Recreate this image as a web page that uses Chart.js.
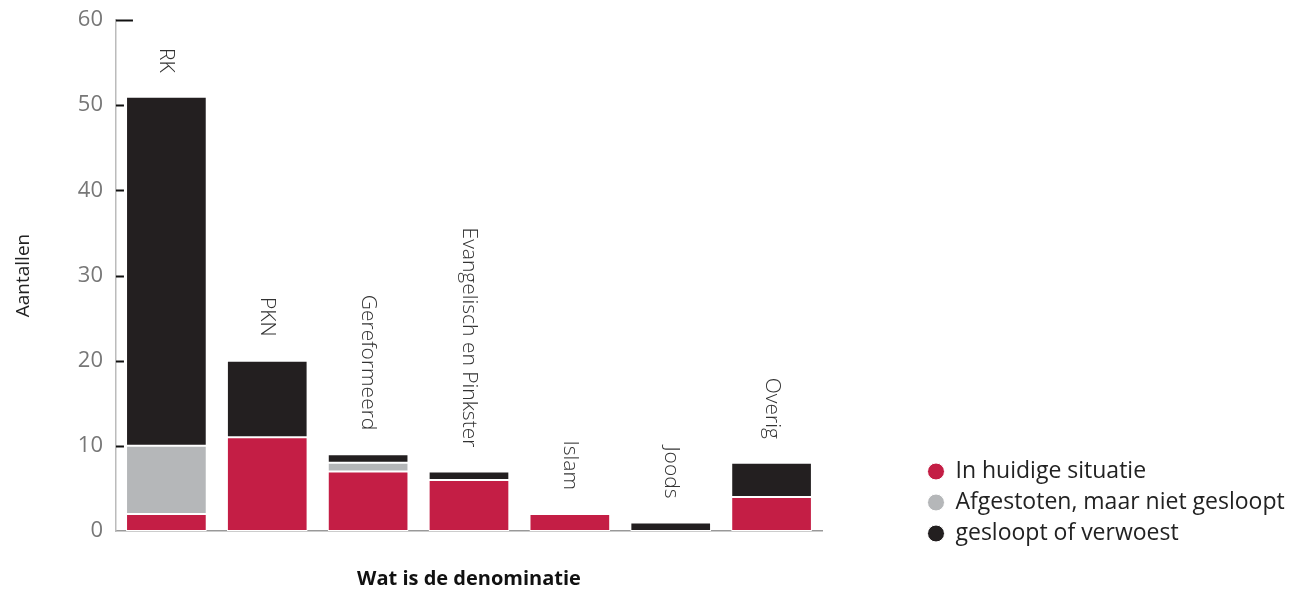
<!DOCTYPE html>
<html>
<head>
<meta charset="utf-8">
<script src="https://cdn.jsdelivr.net/npm/chart.js@4.4.0/dist/chart.umd.min.js"></script>
<style>
  html, body { margin: 0; padding: 0; background: #fff; }
  #wrap { width: 1296px; height: 591px; position: relative; }
</style>
</head>
<body>
<div id="wrap"><canvas id="chartKerken"></canvas></div>
<script>
// categorieen en waarden
const categorieen = ['RK', 'PKN', 'Gereformeerd', 'Evangelisch en Pinkster', 'Islam', 'Joods', 'Overig'];
const huidig = [2, 11, 7, 6, 2, 0, 4];
const afgestoten = [8, 0, 1, 0, 0, 0, 0];
const gesloopt = [41, 9, 1, 1, 0, 1, 4];
const yTicks = [0, 10, 20, 30, 40, 50, 60];

const fontFam = '"Open Sans", "Noto Sans", sans-serif';

// categorie labels gedraaid boven de balken
const barLabels = {
    id: 'barLabels',
    afterDatasetsDraw(chart) {
        const ctx = chart.ctx;
        const yScale = chart.scales.y;
        const xScale = chart.scales.x;
        ctx.save();
        ctx.font = '300 21px ' + fontFam;
        ctx.fillStyle = '#333';
        ctx.textAlign = 'right';
        ctx.textBaseline = 'middle';
        categorieen.forEach((cat, i) => {
            const tot = huidig[i] + afgestoten[i] + gesloopt[i];
            const x = xScale.getPixelForValue(i);
            const y = yScale.getPixelForValue(tot) - 24;
            ctx.save();
            ctx.translate(x, y);
            ctx.rotate(Math.PI / 2);
            ctx.fillText(cat, 0, 0);
            ctx.restore();
        });
        ctx.restore();
    }
};

// korte tick streepjes aan de binnenkant van de y-as
const yTickMarks = {
    id: 'yTickMarks',
    afterDraw(chart) {
        const ctx = chart.ctx;
        const yScale = chart.scales.y;
        const left = chart.chartArea.left;
        ctx.save();
        ctx.strokeStyle = '#111';
        ctx.lineWidth = 2;
        yTicks.forEach(v => {
            if (v === 0) return;
            const y = Math.round(yScale.getPixelForValue(v)) + 0.5;
            ctx.beginPath();
            ctx.moveTo(left, y);
            ctx.lineTo(left + (v === 60 ? 17 : 8), y);
            ctx.stroke();
        });
        ctx.restore();
    }
};

// ruimte tussen grafiek en legenda
const legendGap = {
    id: 'legendGap',
    beforeInit(chart) {
        const fit = chart.legend.fit;
        chart.legend.fit = function() {
            fit.bind(chart.legend)();
            this.width += 152;
        };
    },
    afterLayout(chart) {
        chart.legend.left = chart.chartArea.right + 98;
        chart.legend.top = chart.chartArea.bottom - (chart.legend.bottom - chart.legend.top) + 22;
        chart.legend.bottom = chart.chartArea.bottom + 22;
    }
};

new Chart(document.getElementById('chartKerken'), {
    type: 'bar',
    data: {
        labels: categorieen,
        datasets: [
            {label: 'In huidige situatie', data: huidig, backgroundColor: '#c41e45', borderColor: '#fff', borderWidth: 1, borderSkipped: false},
            {label: 'Afgestoten, maar niet gesloopt', data: afgestoten, backgroundColor: '#b5b7b9', borderColor: '#fff', borderWidth: 1, borderSkipped: false},
            {label: 'gesloopt of verwoest', data: gesloopt, backgroundColor: '#231f20', borderColor: '#fff', borderWidth: 1, borderSkipped: false}
        ]
    },
    options: {
        responsive: true,
        maintainAspectRatio: false,
        animation: false,
        categoryPercentage: 0.8,
        barPercentage: 1,
        layout: {padding: {top: 20, left: 8, right: 0, bottom: 0}},
        plugins: {
            tooltip: {enabled: false},
            legend: {
                position: 'right',
                align: 'end',
                fullSize: false,
                labels: {
                    usePointStyle: true,
                    pointStyle: 'circle',
                    boxWidth: 16,
                    boxHeight: 12,
                    padding: 8,
                    color: '#222',
                    font: {family: fontFam, size: 23}
                }
            }
        },
        scales: {
            x: {
                stacked: true,
                grid: {display: false, drawTicks: false},
                border: {color: '#999', width: 1.5},
                ticks: {display: false},
                title: {display: true, text: 'Wat is de denominatie', color: '#111', padding: {top: 36, bottom: 0}, font: {family: fontFam, size: 20, weight: 'bold'}}
            },
            y: {
                stacked: true,
                min: 0,
                max: 60,
                afterBuildTicks(axis) { axis.ticks = yTicks.map(v => ({value: v})); },
                afterFit(axis) { axis.paddingTop = 0; },
                grid: {display: false, drawTicks: false},
                border: {color: '#bbb', width: 1.5},
                ticks: {color: '#777', padding: 13, font: {family: fontFam, size: 22}},
                title: {display: true, text: 'Aantallen', color: '#222', padding: {bottom: 30}, font: {family: fontFam, size: 19, weight: '500'}}
            }
        }
    },
    plugins: [barLabels, yTickMarks, legendGap]
});
</script>
</body>
</html>
